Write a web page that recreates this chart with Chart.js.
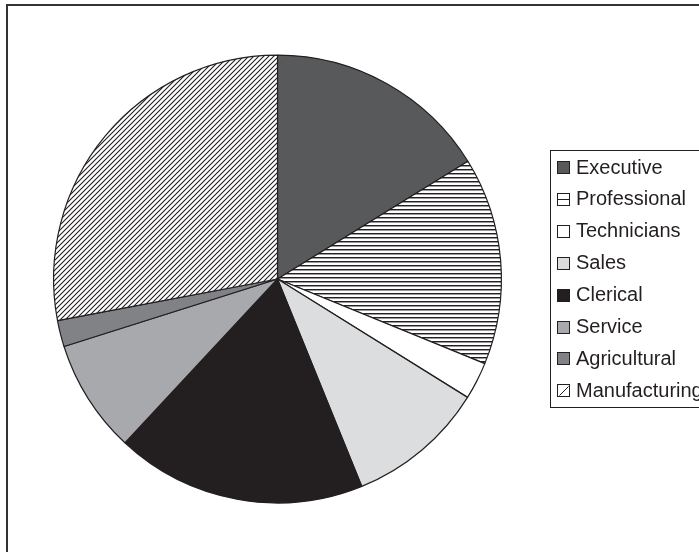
<!DOCTYPE html>
<html>
<head>
<meta charset="utf-8">
<script src="https://cdn.jsdelivr.net/npm/chart.js@4/dist/chart.umd.min.js"></script>
<style>
  html, body { margin: 0; padding: 0; background: #fff; }
  canvas { display: block; }
</style>
</head>
<body>
<canvas id="pieChart" width="699" height="552"></canvas>
<script>
// Occupation shares (percent of total)
const categories = ['Executive', 'Professional', 'Technicians', 'Sales', 'Clerical', 'Service', 'Agricultural', 'Manufacturing'];
const shares = [16.2, 15.0, 2.7, 10.0, 18.1, 8.2, 1.9, 28.0];

const INK = '#231f20';
const FONT = "'Liberation Sans', Arial, sans-serif";

// Pattern helpers
function makeHLines() {
  const c = document.createElement('canvas');
  c.width = 4; c.height = 4;
  const g = c.getContext('2d');
  g.fillStyle = '#fff';
  g.fillRect(0, 0, 4, 4);
  g.fillStyle = INK;
  g.fillRect(0, 1, 4, 1);
  g.fillStyle = '#9a9a9a';
  g.fillRect(0, 2, 4, 1);
  return g.createPattern(c, 'repeat');
}

function makeDiag() {
  const s = 5;
  const c = document.createElement('canvas');
  c.width = s; c.height = s;
  const g = c.getContext('2d');
  g.fillStyle = '#fff';
  g.fillRect(0, 0, s, s);
  g.strokeStyle = INK;
  g.lineWidth = 1.1;
  g.beginPath();
  g.moveTo(-1, s + 1); g.lineTo(s + 1, -1);
  g.moveTo(-1, 1); g.lineTo(1, -1);
  g.moveTo(s - 1, s + 1); g.lineTo(s + 1, s - 1);
  g.stroke();
  return g.createPattern(c, 'repeat');
}

const fills = [
  '#58595b',
  makeHLines(),
  '#ffffff',
  '#dcdddf',
  '#231f20',
  '#a7a9ac',
  '#808285',
  makeDiag()
];

// legend marker style: 'solid', 'hline', 'diag'
const markerKinds = ['solid', 'hline', 'solid', 'solid', 'solid', 'solid', 'solid', 'diag'];

const framePlugin = {
  id: 'frameAndLegend',
  beforeDraw(chart) {
    const ctx = chart.ctx;
    ctx.save();
    ctx.fillStyle = '#fff';
    ctx.fillRect(0, 0, chart.width, chart.height);
    // outer frame, only left/top visible
    ctx.strokeStyle = '#333';
    ctx.lineWidth = 2;
    ctx.strokeRect(7, 5, chart.width + 20, chart.height + 20);
    ctx.restore();
  },
  afterDraw(chart) {
    const ctx = chart.ctx;
    const boxX = 550, boxY = 150, boxBottom = 407;
    ctx.save();
    ctx.strokeStyle = INK;
    ctx.lineWidth = 1;
    ctx.strokeRect(boxX + 0.5, boxY + 0.5, chart.width, boxBottom - boxY);

    const rowY0 = 167, rowStep = 31.9, mSize = 12, mX = 557, tX = 576;
    ctx.font = '20px ' + FONT;
    ctx.textBaseline = 'middle';
    chart.data.labels.forEach((lab, i) => {
      const cy = rowY0 + i * rowStep;
      const my = Math.round(cy - mSize / 2) + 0.5;
      const mx = mX + 0.5;
      const kind = markerKinds[i];
      ctx.fillStyle = kind === 'solid' ? fills[i] : '#fff';
      ctx.fillRect(mx, my, mSize, mSize);
      ctx.strokeStyle = INK;
      ctx.lineWidth = 1;
      ctx.strokeRect(mx, my, mSize, mSize);
      if (kind === 'hline') {
        ctx.beginPath();
        ctx.moveTo(mx, my + mSize / 2);
        ctx.lineTo(mx + mSize, my + mSize / 2);
        ctx.stroke();
      } else if (kind === 'diag') {
        ctx.beginPath();
        ctx.moveTo(mx + 2, my + mSize - 1);
        ctx.lineTo(mx + mSize - 1, my + 2);
        ctx.stroke();
      }
      ctx.fillStyle = INK;
      ctx.fillText(lab, tX, cy + 1);
    });
    ctx.restore();
  }
};

new Chart(document.getElementById('pieChart'), {
  type: 'pie',
  data: {
    labels: categories,
    datasets: [{
      data: shares,
      backgroundColor: fills,
      borderColor: INK,
      borderWidth: 1.2
    }]
  },
  options: {
    responsive: false,
    animation: false,
    events: [],
    layout: {
      padding: { left: 53, top: 54, right: 197, bottom: 48 }
    },
    plugins: {
      legend: { display: false },
      tooltip: { enabled: false }
    }
  },
  plugins: [framePlugin]
});
</script>
</body>
</html>
